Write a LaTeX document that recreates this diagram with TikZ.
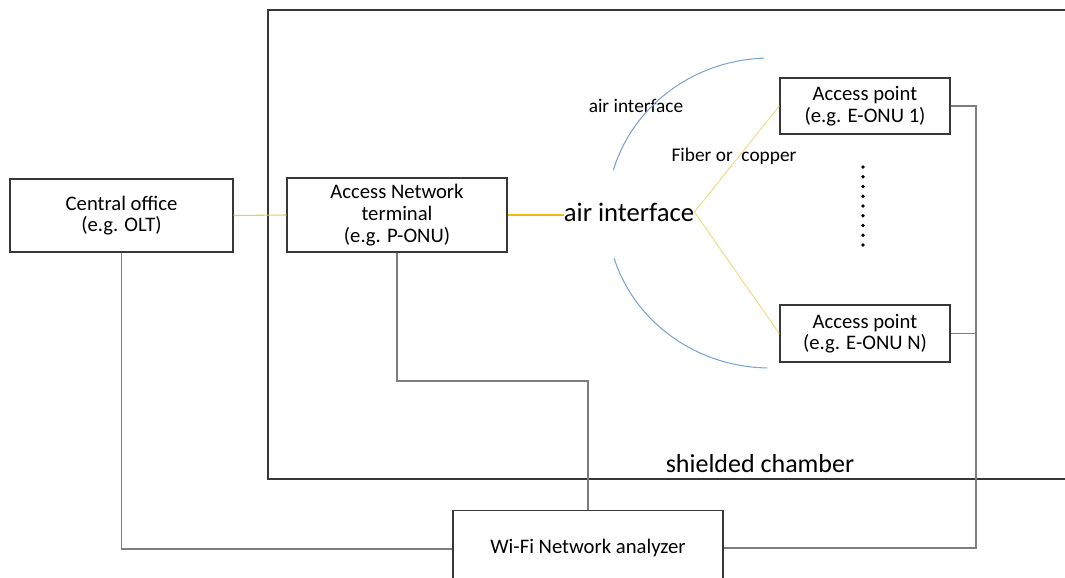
\documentclass[tikz,border=0pt]{standalone}
\usepackage{fontspec}
\setmainfont{Carlito}
\begin{document}
\begin{tikzpicture}[x=0.75pt,y=-0.75pt,
  box/.style={draw=boxgray,line width=1.1pt,rectangle,inner sep=0pt,align=center,font=\fontsize{15.5}{16.2}\selectfont},
  wire/.style={draw=wiregray,line width=0.8pt},
  fib/.style={draw=fibyellow,line width=0.7pt},
  fibmid/.style={draw=fibmidc,line width=0.8pt},
  fibstrong/.style={draw=fibdark,line width=1.2pt},
  arcline/.style={draw=arcblue,line width=0.8pt},
  lbl/.style={inner sep=0pt,font=\fontsize{14.5}{16}\selectfont}]
\definecolor{boxgray}{RGB}{55,55,55}
\definecolor{wiregray}{RGB}{125,125,125}
\definecolor{fibyellow}{RGB}{245,215,130}
\definecolor{fibmidc}{RGB}{242,200,90}
\definecolor{fibdark}{RGB}{240,185,20}
\definecolor{arcblue}{RGB}{125,165,210}
\useasboundingbox (0,0) rectangle (1065,578);
\clip (0,0) rectangle (1065,578);
% shielded chamber
\draw[boxgray,line width=1.1pt] (1075,10) -- (268,10) -- (268,479) -- (1075,479);
\node[lbl,font=\fontsize{19.5}{22}\selectfont] (sc) at (760,464) {shielded chamber};
% boxes
\node[box,minimum width=167.25pt,minimum height=54.75pt] (co) at (121.5,215.5) {Central office\\(e.g. OLT)};
\node[box,minimum width=165pt,minimum height=55.5pt] (ant) at (397,215) {Access Network\\terminal\\(e.g. P-ONU)};
\node[box,minimum width=127.5pt,minimum height=42pt] (ap1) at (865,106) {Access point\\(e.g. E-ONU 1)};
\node[box,minimum width=127.5pt,minimum height=42.75pt] (apn) at (865,333.5) {Access point\\(e.g. E-ONU N)};
\node[box,minimum width=202.5pt,minimum height=57pt,anchor=north] (wa) at (588,510) {};
\node[lbl,font=\fontsize{15.5}{17}\selectfont] (wat) at (588,548) {Wi-Fi Network analyzer};
% air interface labels
\node[lbl,font=\fontsize{20}{22}\selectfont] (air) at (629,212) {air interface};
\node[lbl] (airs) at (636,106) {air interface};
\node[lbl] (fc) at (734,156) {Fiber or\ \ copper};
% arcs
\draw[arcline] plot[domain=92:164,samples=50] ({770+163*cos(\x)},{213-155*sin(\x)});
\draw[arcline] plot[domain=197:269,samples=50] ({770+163*cos(\x)},{213-155*sin(\x)});
% fiber lines
\draw[fibmid] (co.east) -- (ant.west);
\draw[fibstrong] (ant.east) -- (ant.east -| air.west);
\draw[fib] (air.east) -- (ap1.west);
\draw[fib] (air.east) -- (apn.west);
% dots
\foreach \i in {0,...,8} \fill[black] (863,{167+\i*9.75}) circle[radius=1.8];
% gray wiring
\coordinate (r1) at (976,106);
\coordinate (m1) at (397,381);
\draw[wire] (ap1.east) -- (r1) -- (r1 |- wat) -- (wa.east |- wat);
\draw[wire] (apn.east) -- (apn.east -| r1);
\draw[wire] (ant.south) -- (m1) -- (m1 -| wa.north) -- (wa.north);
\draw[wire] (co.south) -- (co.south |- 0,549) -- (wa.west |- 0,549);
\end{tikzpicture}
\end{document}
